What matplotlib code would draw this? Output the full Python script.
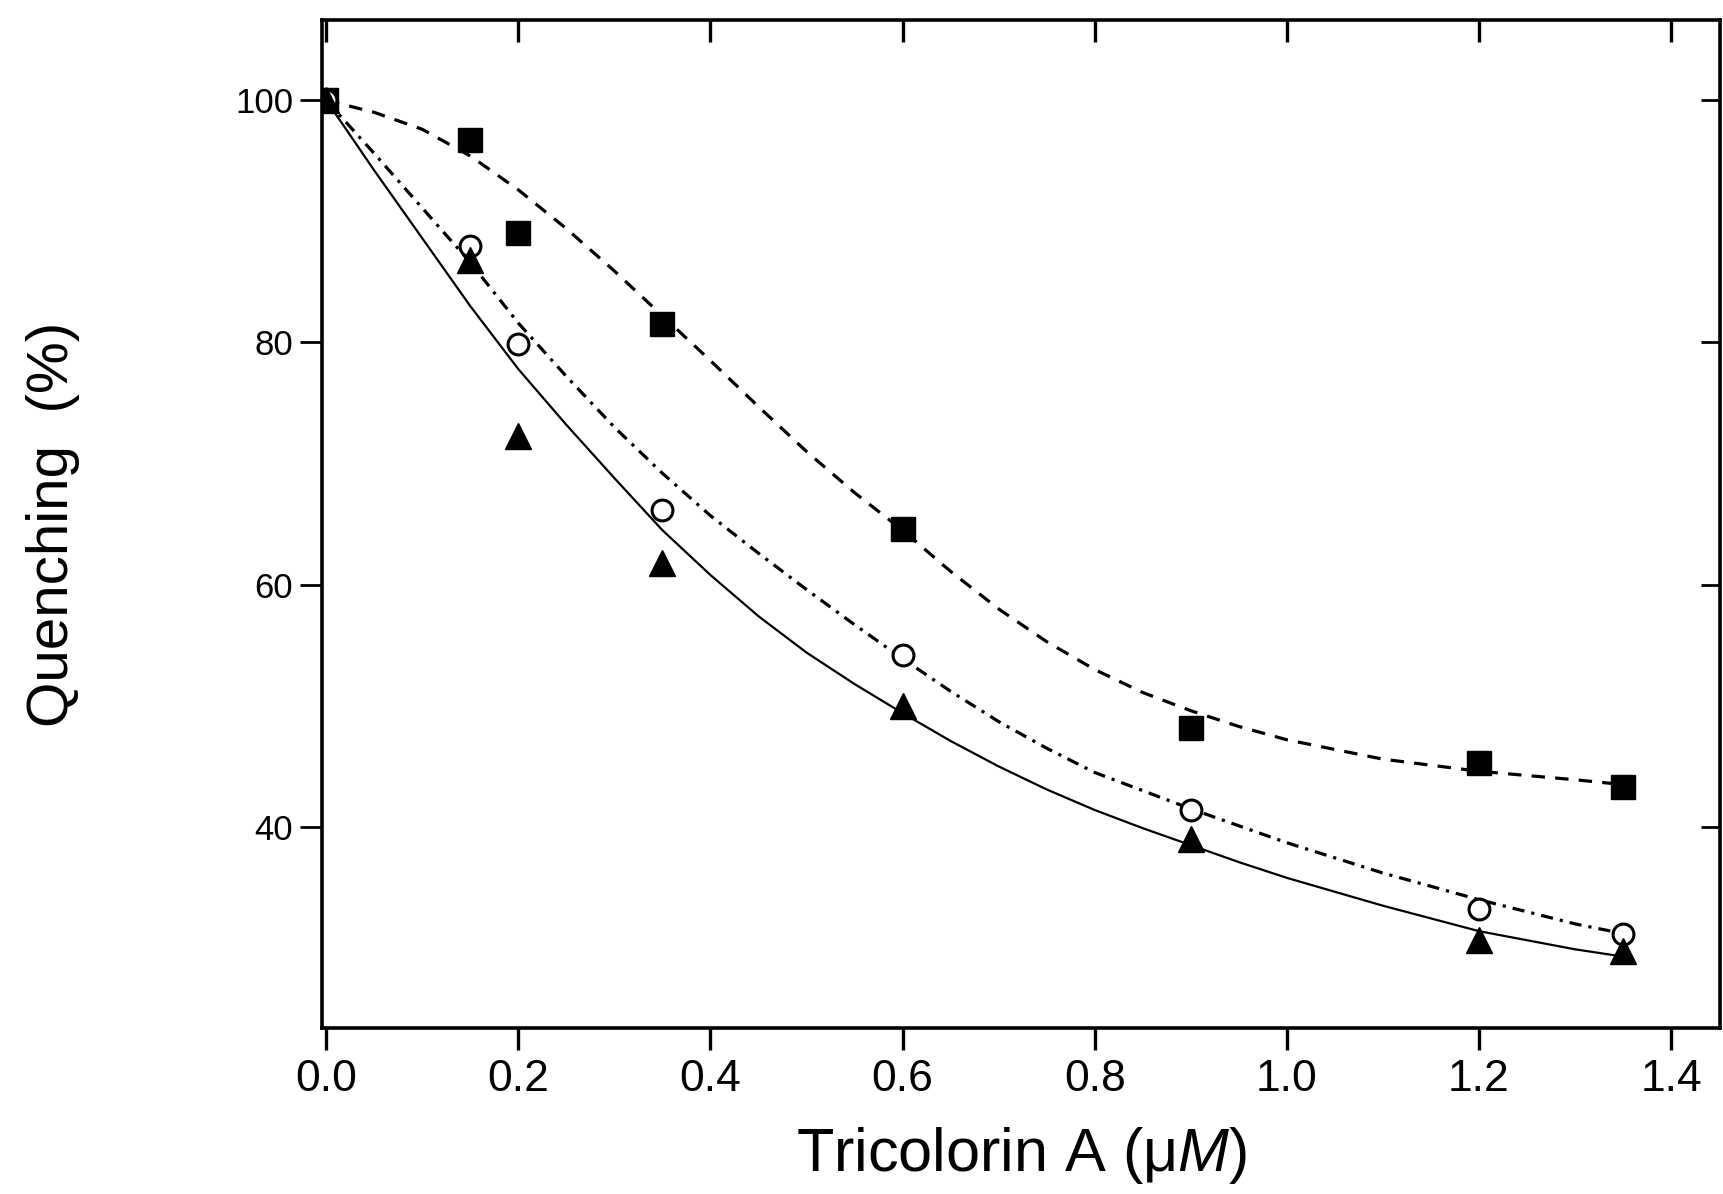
import matplotlib.pyplot as plt

plt.rcParams['font.family'] = ['Liberation Sans', 'DejaVu Sans']
plt.rcParams['mathtext.fontset'] = 'custom'
plt.rcParams['mathtext.it'] = 'Liberation Sans:italic'
plt.rcParams['mathtext.rm'] = 'Liberation Sans'

# measured points
conc = [0.0, 0.15, 0.2, 0.35, 0.6, 0.9, 1.2, 1.35]
q_square = [100.0, 96.7, 89.0, 81.5, 64.6, 48.2, 45.3, 43.3]
q_circle = [100.0, 88.0, 79.9, 66.2, 54.2, 41.4, 33.2, 31.2]
q_triangle = [100.0, 86.8, 72.3, 61.8, 50.0, 39.0, 30.7, 29.8]

# fitted curves
fit_x = [0.0, 0.05, 0.1, 0.15, 0.2, 0.25, 0.3, 0.35, 0.4, 0.45, 0.5, 0.55,
         0.6, 0.65, 0.7, 0.75, 0.8, 0.85, 0.9, 0.95, 1.0, 1.1, 1.2, 1.3, 1.35]
fit_square = [100.0, 99.0, 97.6, 95.4, 92.6, 89.4, 85.9, 82.2, 78.5, 74.7, 71.0, 67.6,
              64.5, 61.1, 58.0, 55.3, 53.0, 51.1, 49.6, 48.3, 47.2, 45.6, 44.6, 43.9, 43.5]
fit_circle = [100.0, 95.6, 91.1, 86.6, 81.6, 77.2, 73.0, 69.2, 65.7, 62.6, 59.6, 56.7,
              53.9, 51.2, 48.7, 46.5, 44.5, 43.0, 41.5, 40.1, 38.7, 36.2, 34.0, 32.0, 31.2]
fit_triangle = [100.0, 94.2, 88.6, 83.0, 77.8, 73.2, 68.8, 64.5, 60.8, 57.4, 54.4, 51.8,
                49.4, 47.1, 45.0, 43.1, 41.4, 39.9, 38.5, 37.1, 35.8, 33.5, 31.4, 29.9, 29.3]

fig = plt.figure(figsize=(17.24, 11.94), dpi=100)
ax = fig.add_axes([0.187, 0.139, 0.8107, 0.844])

ax.plot(fit_x, fit_square, color='black', lw=2.3, dashes=(4.2, 3.2))
ax.plot(fit_x, fit_circle, color='black', lw=2.3, dashes=(3.8, 2.2, 1.0, 2.2))
ax.plot(fit_x, fit_triangle, color='black', lw=1.6, ls='-')

ax.plot(conc, q_square, 's', color='black', ms=17, ls='none')
ax.plot(conc, q_circle, 'o', mfc='white', mec='black', mew=2.2, ms=15, ls='none')
ax.plot(conc, q_triangle, '^', color='black', ms=19, ls='none')

ax.set_xlim(-0.004, 1.451)
ax.set_ylim(23.4, 106.6)
ax.set_xticks([0.0, 0.2, 0.4, 0.6, 0.8, 1.0, 1.2, 1.4])
ax.set_xticklabels(['0.0', '0.2', '0.4', '0.6', '0.8', '1.0', '1.2', '1.4'])
ax.set_yticks([40, 60, 80, 100])

for s in ax.spines.values():
    s.set_linewidth(2.6)

ax.tick_params(axis='x', which='both', direction='out', length=16, width=2.4,
               labelsize=32, pad=6, top=False)
ax.tick_params(axis='y', which='both', direction='out', length=16, width=2.0,
               labelsize=25, pad=5, right=False)

# inward ticks on top and right
ax2 = ax.secondary_xaxis('top')
ax2.set_xticks([0.0, 0.2, 0.4, 0.6, 0.8, 1.0, 1.2, 1.4])
ax2.tick_params(direction='in', length=16, width=2.4, labeltop=False)
ax3 = ax.secondary_yaxis('right')
ax3.set_yticks([40, 60, 80, 100])
ax3.tick_params(direction='in', length=14, width=2.0, labelright=False)

ax.set_xlabel('Tricolorin A (μ$\\it{M}$)', fontsize=44, labelpad=18)
ax.set_ylabel('Quenching  (%)', fontsize=42, labelpad=112)

fig.savefig('out.png', dpi=100)
